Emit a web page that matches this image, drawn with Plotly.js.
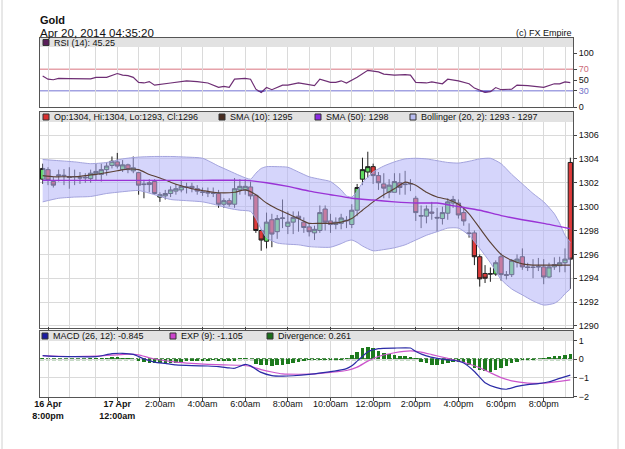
<!DOCTYPE html>
<html>
<head>
<meta charset="utf-8">
<script src="https://cdn.plot.ly/plotly-3.0.1.min.js"></script>
<style>
html,body{margin:0;padding:0;background:#fff;}
#chart{width:625px;height:449px;}
</style>
</head>
<body>
<div id="chart"></div>
<script>
// ---------- DATA ----------
// candle index (15-minute candles)
const candleIdx = Array.from({length: 100}, (_, i) => i);

const openP = [1302.3,1303.1,1302.1,1302.6,1302.6,1302.5,1302.5,1302.4,1302.4,1302.35,
1302.75,1302.7,1303.1,1303.45,1303.75,1303.1,1303.5,1303.0,1302.85,1301.9,
1302.0,1302.1,1300.8,1300.9,1301.1,1301.3,1301.4,1301.6,1301.7,1301.5,
1301.2,1301.2,1301.1,1301.1,1300.2,1300.5,1300.2,1301.4,1301.4,1301.65,
1300.95,1298.0,1297.1,1298.9,1297.9,1299.0,1298.35,1298.7,1299.2,1298.7,
1298.3,1297.8,1298.0,1299.8,1298.8,1298.5,1298.6,1298.8,1298.5,1299.7,
1302.3,1302.9,1303.35,1302.6,1301.9,1301.2,1301.2,1302.0,1301.9,1301.9,
1300.7,1299.2,1299.2,1299.55,1299.1,1299.0,1299.45,1300.3,1300.3,1299.5,
1297.8,1297.8,1295.8,1294.4,1294.35,1294.35,1295.8,1294.3,1294.3,1295.35,
1295.8,1294.95,1294.9,1294.95,1294.95,1294.1,1294.95,1295.05,1295.3,1303.7];

const highP = [1303.6,1303.3,1302.5,1303.1,1303.15,1303.3,1303.1,1302.9,1302.8,1303.1,
1303.6,1303.6,1303.7,1304.2,1304.5,1303.9,1303.6,1304.2,1302.9,1302.25,
1302.3,1302.3,1301.2,1301.4,1301.7,1301.9,1302.2,1302.0,1302.0,1301.8,
1301.6,1301.6,1301.6,1301.4,1300.7,1300.7,1302.4,1302.3,1302.3,1302.1,
1301.0,1298.1,1299.5,1299.4,1299.3,1300.6,1299.6,1299.6,1299.6,1299.1,
1298.6,1298.4,1300.1,1300.1,1299.4,1299.1,1299.4,1299.2,1300.2,1301.9,
1304.1,1304.6,1303.6,1302.9,1302.8,1302.3,1302.8,1302.8,1303.0,1302.3,
1300.9,1300.1,1300.1,1300.4,1299.9,1300.0,1300.7,1300.9,1300.6,1300.0,
1298.6,1298.0,1296.0,1295.1,1294.9,1295.5,1296.1,1294.6,1295.6,1296.0,
1296.5,1295.3,1295.6,1295.7,1295.6,1295.3,1295.75,1295.8,1296.5,1304.1];

const lowP = [1301.9,1301.8,1301.6,1302.1,1301.8,1301.5,1301.8,1301.9,1302.0,1302.0,
1302.2,1302.1,1302.6,1303.2,1303.2,1302.9,1302.8,1302.8,1301.0,1300.7,
1301.2,1301.0,1300.4,1300.6,1300.8,1301.0,1301.2,1301.1,1301.2,1301.0,
1300.9,1300.8,1300.8,1299.9,1299.9,1300.0,1299.9,1301.0,1301.0,1300.6,
1297.8,1296.3,1296.5,1296.6,1297.3,1298.2,1297.7,1297.7,1297.9,1297.8,
1297.5,1297.2,1297.8,1298.0,1297.8,1298.1,1298.1,1298.2,1298.2,1299.2,
1301.8,1302.4,1301.9,1301.4,1300.7,1300.7,1301.2,1301.0,1301.0,1301.3,
1298.8,1298.2,1298.6,1298.9,1297.9,1298.5,1298.9,1299.9,1299.0,1298.4,
1297.4,1295.1,1293.3,1293.6,1293.7,1294.2,1293.8,1293.9,1294.1,1294.9,
1294.7,1294.6,1294.0,1294.6,1293.5,1294.0,1294.7,1294.5,1294.5,1293.1];

const closeP = [1303.2,1302.2,1301.8,1302.65,1302.62,1302.45,1302.52,1302.42,1302.45,1302.8,
1302.95,1303.1,1303.4,1303.8,1303.4,1303.5,1303.1,1303.25,1301.8,1301.85,
1301.85,1301.1,1301.0,1301.1,1301.4,1301.5,1301.7,1301.65,1301.55,1301.3,
1301.22,1301.15,1301.12,1300.2,1300.5,1300.2,1301.5,1301.7,1301.7,1300.9,
1298.0,1297.2,1298.7,1297.7,1299.0,1299.05,1298.7,1299.1,1299.0,1298.25,
1297.9,1298.1,1299.5,1298.7,1298.5,1298.7,1299.05,1298.85,1299.7,1301.6,
1303.1,1303.35,1302.6,1302.0,1301.55,1301.8,1302.1,1301.6,1301.85,1301.92,
1299.5,1299.25,1299.8,1299.45,1299.05,1299.5,1300.4,1300.6,1299.3,1298.8,
1297.75,1295.8,1293.95,1294.0,1294.37,1295.3,1294.3,1294.25,1295.5,1295.6,
1294.95,1294.9,1294.92,1294.97,1294.1,1294.95,1295.15,1295.3,1295.6,1295.6];

const sma10X = [0,2,4,6,8,10,12,14,16,18,20,22,24,26,28,30,32,34,36,38,40,42,44,46,48,50,52,54,56,58,60,62,64,66,68,70,72,74,76,78,80,82,84,86,88,90,92,94,96,99];
const sma10Y = [1302.6,1302.5,1302.5,1302.5,1302.6,1302.7,1302.85,1303.0,1303.15,1303.1,1302.7,1302.4,1302.05,1301.75,1301.5,1301.35,1301.2,1301.15,1301.2,1301.4,1301.0,1300.3,1299.8,1299.4,1299.0,1298.6,1298.6,1298.6,1298.7,1299.0,1299.7,1300.4,1301.0,1301.5,1302.05,1301.8,1301.2,1300.8,1300.6,1300.2,1299.4,1298.2,1297.0,1296.0,1295.5,1295.2,1295.1,1295.1,1295.1,1295.1];

const sma50X = [0,10,20,30,38,42,46,50,54,58,62,66,70,74,78,82,86,90,94,99];
const sma50Y = [1302.2,1302.2,1302.2,1302.2,1302.2,1302.0,1301.7,1301.3,1301.0,1300.7,1300.55,1300.4,1300.3,1300.3,1300.0,1299.7,1299.25,1298.9,1298.6,1298.15];

const bbX = [0,3,6,9,12,15,18,21,24,27,30,33,35,37,39,40,41,42,44,46,48,50,52,54,56,57,58,59,60,62,64,66,68,70,72,74,76,78,80,82,84,86,88,90,92,94,96,97,98,99];
const bbUpper = [1303.95,1303.85,1303.75,1303.6,1303.7,1304.0,1304.15,1304.2,1304.2,1304.15,
1304.05,1303.4,1303.0,1302.6,1302.3,1302.8,1303.2,1303.35,1303.35,1303.3,
1302.9,1302.5,1302.3,1302.1,1301.4,1300.9,1300.8,1301.3,1302.0,1302.9,
1303.4,1303.75,1304.0,1304.05,1304.0,1303.85,1303.7,1303.65,1303.8,1304.0,
1304.05,1303.6,1302.7,1301.9,1301.1,1300.4,1299.4,1298.6,1297.6,1297.0];
const bbLower = [1300.4,1300.7,1300.8,1300.85,1301.1,1301.25,1301.35,1301.0,1300.6,1300.5,
1300.4,1300.1,1299.85,1299.7,1299.6,1299.0,1298.1,1297.4,1296.95,1296.85,
1296.8,1296.65,1296.6,1296.6,1296.9,1297.1,1297.2,1297.0,1296.7,1296.3,
1296.4,1296.55,1296.8,1297.2,1297.6,1297.9,1298.2,1298.2,1297.6,1296.5,
1295.3,1293.9,1293.1,1292.6,1292.1,1291.75,1291.9,1292.2,1292.7,1293.1];

const rsiX = [0,1,2,3,5,7,9,10,12,14,15,16,17,18,19,20,21,24,26,27,29,31,33,34,35,36,38,39,40,41,42,43,45,46,48,49,51,52,54,55,56,57,59,61,63,64,66,68,69,70,72,73,75,76,78,80,81,83,84,85,86,88,89,91,93,94,96,97,98,99];
const rsiY = [57.5,51.5,50.5,53,52.5,52,52,55,55,62,59,58,55,45.5,44.5,47,40.5,44.5,46.5,48.5,47,44.5,36.3,38,36.3,51.5,53,51.5,33,27,36,32,40.5,40.5,44.5,43,39.5,51.5,45.5,45.5,48.5,44.5,55,68,65,61,59,60,59,45.5,44.5,46.5,43,51.5,48.5,43,35,27,28.5,36,32,33,40.5,39.5,38,36.3,43,43,46.5,45.3];

const macdX = [0,3,6,10,13,15,17,19,21,23,25,28,31,33,35,36,38,39,41,43,45,47,50,53,55,57,58,59,60,61,63,66,69,70,72,74,76,78,79,81,83,85,87,89,91,93,95,97,99];
const macdY = [0.2,0.15,0.14,0.14,0.3,0.32,0.26,0.02,-0.15,-0.22,-0.3,-0.34,-0.36,-0.39,-0.46,-0.48,-0.27,-0.35,-0.7,-0.87,-0.9,-0.88,-0.81,-0.7,-0.62,-0.5,-0.35,-0.1,0.15,0.4,0.57,0.6,0.6,0.42,0.18,0.05,-0.03,-0.1,-0.2,-0.65,-1.25,-1.5,-1.6,-1.45,-1.35,-1.3,-1.2,-1.02,-0.85];

const expX = [0,5,10,13,16,18,20,22,25,28,31,34,37,39,41,43,45,48,51,54,57,59,61,63,66,69,71,73,76,78,80,82,84,86,88,91,94,97,99];
const expY = [0.2,0.15,0.17,0.22,0.28,0.24,0.08,-0.04,-0.15,-0.22,-0.27,-0.3,-0.32,-0.38,-0.55,-0.68,-0.78,-0.8,-0.78,-0.7,-0.6,-0.42,-0.1,0.15,0.35,0.45,0.38,0.25,0.05,-0.1,-0.25,-0.45,-0.72,-0.98,-1.15,-1.27,-1.28,-1.18,-1.1];

const divergence = [0.05,0.04,0.03,0.03,0.03,0.03,0.03,0.03,0.04,0.05,
0.06,0.07,0.08,0.1,0.1,0.08,0.06,0.02,-0.1,-0.15,
-0.2,-0.22,-0.22,-0.2,-0.2,-0.18,-0.14,-0.1,-0.08,-0.07,
-0.07,-0.07,-0.06,-0.08,-0.1,-0.1,-0.08,0.05,0.06,0.03,
-0.25,-0.3,-0.33,-0.34,-0.33,-0.3,-0.25,-0.2,-0.12,-0.08,
-0.06,-0.05,-0.05,-0.05,-0.04,-0.03,-0.03,0.05,0.22,0.4,
0.58,0.65,0.6,0.45,0.35,0.28,0.22,0.18,0.15,0.1,
0.05,-0.15,-0.22,-0.28,-0.3,-0.27,-0.2,-0.15,-0.12,-0.13,
-0.3,-0.45,-0.58,-0.65,-0.7,-0.55,-0.45,-0.35,-0.2,-0.12,
-0.06,-0.04,-0.03,0.03,0.05,0.1,0.15,0.18,0.22,0.26];

const xTickIdx = [1,14,22,30,38,46,54,62,70,78,86,94];
const xTickText = ['<b>16 Apr</b><br><b>8:00pm</b>','<b>17 Apr</b><br><b>12:00am</b>','2:00am','4:00am','6:00am','8:00am','10:00am','12:00pm','2:00pm','4:00pm','6:00pm','8:00pm'];
const xGridMinor = [5,10,18,26,34,42,50,58,66,74,82,90,98];

const priceTicks = [1290,1292,1294,1296,1298,1300,1302,1304,1306];
const rsiTicks = [0,30,50,70,100];
const rsiTickText = ['0','<span style="color:#7272c8">30</span>','50','<span style="color:#cc6a78">70</span>','100'];
const macdTicks = [-2,-1,0,1];

// ---------- LAYOUT HELPERS ----------
const L = 40, R = 573, T = 38, B = 397;
const px = v => (v - L) / (R - L);
const py = v => (B - v) / (B - T);
const FONT = 'Arial, "Liberation Sans", sans-serif';

const rsiFloor = rsiX.map(() => 30);
const rsiBelow = rsiY.map(v => Math.min(v, 30));

const traces = [
  // Bollinger band
  {type:'scatter', mode:'lines', x:bbX, y:bbLower, xaxis:'x', yaxis:'y',
   line:{color:'#a3a3dd', width:1, shape:'spline', smoothing:0.6}, hoverinfo:'skip'},
  {type:'scatter', mode:'lines', x:bbX, y:bbUpper, xaxis:'x', yaxis:'y',
   fill:'tonexty', fillcolor:'rgba(178,178,248,0.55)',
   line:{color:'#a3a3dd', width:1, shape:'spline', smoothing:0.6}, hoverinfo:'skip'},
  // candles
  {type:'candlestick', x:candleIdx, open:openP, high:highP, low:lowP, close:closeP,
   xaxis:'x', yaxis:'y', whiskerwidth:0,
   increasing:{line:{color:'#1e1e1e', width:1}, fillcolor:'#5fdc5f'},
   decreasing:{line:{color:'#1e1e1e', width:1}, fillcolor:'#dd3a3a'}, hoverinfo:'skip'},
  // SMAs
  {type:'scatter', mode:'lines', x:sma10X, y:sma10Y, xaxis:'x', yaxis:'y',
   line:{color:'#5a4034', width:1.1, shape:'spline', smoothing:0.5}, hoverinfo:'skip'},
  {type:'scatter', mode:'lines', x:sma50X, y:sma50Y, xaxis:'x', yaxis:'y',
   line:{color:'#9a33d6', width:1.4, shape:'spline', smoothing:0.5}, hoverinfo:'skip'},
  // RSI
  {type:'scatter', mode:'lines', x:rsiX, y:rsiFloor, xaxis:'x', yaxis:'y2',
   line:{width:0, color:'rgba(0,0,0,0)'}, hoverinfo:'skip'},
  {type:'scatter', mode:'lines', x:rsiX, y:rsiBelow, xaxis:'x', yaxis:'y2',
   fill:'tonexty', fillcolor:'#4a4ad0', line:{width:0, color:'rgba(0,0,0,0)'}, hoverinfo:'skip'},
  {type:'scatter', mode:'lines', x:rsiX, y:rsiY, xaxis:'x', yaxis:'y2',
   line:{color:'#6e2e74', width:1.2}, hoverinfo:'skip'},
  // MACD
  {type:'bar', x:candleIdx, y:divergence, xaxis:'x', yaxis:'y3', width:0.66,
   marker:{color:'#1d7a1d', line:{width:0}}, hoverinfo:'skip'},
  {type:'scatter', mode:'lines', x:expX, y:expY, xaxis:'x', yaxis:'y3',
   line:{color:'#cc55cc', width:1.2, shape:'spline', smoothing:0.5}, hoverinfo:'skip'},
  {type:'scatter', mode:'lines', x:macdX, y:macdY, xaxis:'x', yaxis:'y3',
   line:{color:'#2b2ba6', width:1.2, shape:'spline', smoothing:0.5}, hoverinfo:'skip'}
];

const gridC = '#dadada', frameC = '#555';

const shapes = [
  // header bands
  {type:'rect', xref:'paper', yref:'y2 domain', x0:0, x1:1, y0:0.87, y1:1, fillcolor:'#e2e2e2', line:{width:0}, layer:'above'},
  {type:'rect', xref:'paper', yref:'y domain', x0:0, x1:1, y0:0.954, y1:1, fillcolor:'#e2e2e2', line:{width:0}, layer:'above'},
  {type:'rect', xref:'paper', yref:'y3 domain', x0:0, x1:1, y0:0.848, y1:1, fillcolor:'#e2e2e2', line:{width:0}, layer:'above'},
  // RSI levels
  {type:'line', xref:'paper', yref:'y2', x0:0, x1:1, y0:70, y1:70, line:{color:'#e6a2aa', width:1.5}, layer:'below'},
  {type:'line', xref:'paper', yref:'y2', x0:0, x1:1, y0:30, y1:30, line:{color:'#a2a2e2', width:1.5}, layer:'below'},
  // MACD zero line
  {type:'line', xref:'paper', yref:'y3', x0:0, x1:1, y0:0, y1:0, line:{color:'#1d6e1d', width:2, dash:'4px,2px'}, layer:'below'},
  // outer frame lines
  {type:'line', xref:'paper', yref:'paper', x0:px(2), x1:px(2), y0:py(0), y1:py(449), line:{color:'#d0d0d0', width:1}},
  {type:'line', xref:'paper', yref:'paper', x0:px(618), x1:px(618), y0:py(0), y1:py(449), line:{color:'#d0d0d0', width:1}}
];

function legendBox(x, yc, color){
  shapes.push({type:'rect', xref:'paper', yref:'paper', x0:px(x), x1:px(x+6), y0:py(yc+3), y1:py(yc-3),
    fillcolor:color, line:{color:'#333', width:1}, layer:'above'});
}
const annotations = [];
function legendText(x, yc, txt){
  annotations.push({xref:'paper', yref:'paper', x:px(x), y:py(yc), xanchor:'left', yanchor:'middle',
    text:txt, showarrow:false, font:{family:FONT, size:9, color:'#111'}});
}
// RSI header
legendBox(43, 42.5, '#5a1e5a'); legendText(52, 42.5, 'RSI (14): 45.25');
// price header
legendBox(43, 117, '#d93030'); legendText(52, 117, 'Op:1304, Hi:1304, Lo:1293, Cl:1296');
legendBox(219, 117, '#4a2e22'); legendText(228, 117, 'SMA (10): 1295');
legendBox(315, 117, '#8a2be2'); legendText(324, 117, 'SMA (50): 1298');
legendBox(410, 117, '#b8bcf0'); legendText(419, 117, 'Bollinger (20, 2): 1293 - 1297');
// MACD header
legendBox(42, 336, '#1a1aa0'); legendText(51, 336, 'MACD (26, 12): -0.845');
legendBox(170, 336, '#cc44cc'); legendText(179, 336, 'EXP (9): -1.105');
legendBox(267, 336, '#1a6e1a'); legendText(276, 336, 'Divergence: 0.261');

annotations.push({xref:'paper', yref:'paper', x:px(38), y:py(20), xanchor:'left', yanchor:'middle',
  text:'<b>Gold</b>', showarrow:false, font:{family:FONT, size:11, color:'#111'}});
annotations.push({xref:'paper', yref:'paper', x:px(38), y:py(32.5), xanchor:'left', yanchor:'middle',
  text:'Apr 20, 2014 04:35:20', showarrow:false, font:{family:FONT, size:11.5, color:'#111'}});
annotations.push({xref:'paper', yref:'paper', x:px(574), y:py(32.5), xanchor:'right', yanchor:'middle',
  text:'(c) FX Empire', showarrow:false, font:{family:FONT, size:9, color:'#111'}});

const layout = {
  width:625, height:449,
  margin:{l:L, r:625-R, t:T, b:449-B, pad:0},
  paper_bgcolor:'#fff', plot_bgcolor:'#fff',
  showlegend:false, bargap:0, boxgap:0.2, boxgroupgap:0,
  font:{family:FONT, size:9, color:'#111'},
  xaxis:{domain:[0,1], range:[-0.5,99.5], anchor:'y3', fixedrange:true,
    tickmode:'array', tickvals:xTickIdx, ticktext:xTickText, tickangle:0,
    ticks:'outside', ticklen:3, tickcolor:'#444', tickfont:{size:9, color:'#111'},
    ticklabelstandoff:-5,
    showgrid:true, gridcolor:gridC, gridwidth:1,
    minor:{tickmode:'array', tickvals:xGridMinor, showgrid:true, gridcolor:gridC, ticks:''},
    showline:true, linecolor:frameC, linewidth:1, mirror:'all', zeroline:false,
    rangeslider:{visible:false}},
  yaxis:{domain:[0.1922,0.7939], range:[1289.83,1307.93], side:'right', anchor:'x', fixedrange:true,
    tickmode:'array', tickvals:priceTicks, ticks:'outside', ticklen:3, tickcolor:'#444',
    showgrid:true, gridcolor:gridC, showline:true, linecolor:frameC, mirror:true, zeroline:false},
  yaxis2:{domain:[0.8078,1], range:[0,127.8], side:'right', anchor:'x', fixedrange:true,
    tickmode:'array', tickvals:rsiTicks, ticktext:rsiTickText, ticks:'outside', ticklen:3, tickcolor:'#444',
    showgrid:false, showline:true, linecolor:frameC, mirror:true, zeroline:false},
  yaxis3:{domain:[0,0.1838], range:[-2.015,1.51], side:'right', anchor:'x', fixedrange:true,
    tickmode:'array', tickvals:macdTicks, ticks:'outside', ticklen:3, tickcolor:'#444',
    showgrid:true, gridcolor:gridC, showline:true, linecolor:frameC, mirror:true, zeroline:false},
  shapes:shapes,
  annotations:annotations
};

Plotly.newPlot('chart', traces, layout, {staticPlot:true, displayModeBar:false});
</script>
</body>
</html>
